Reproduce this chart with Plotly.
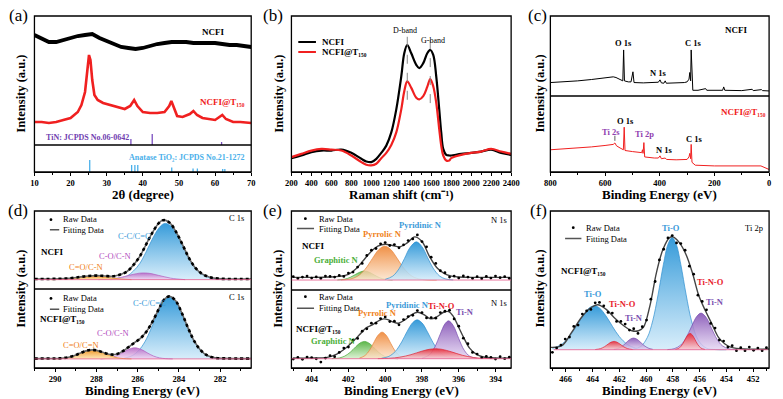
import plotly.graph_objects as go

W, H = 783, 399
SERIF = "Liberation Serif"

# ---------------- (a) XRD ----------------
xrd_2theta_ncfi = [10, 12, 14, 16, 18, 20, 22, 24, 26, 28, 30, 32, 34, 36, 38, 40, 42, 44, 46, 48, 50, 52, 54, 56, 58, 60, 62, 64, 66, 68, 70]
xrd_ncfi = [111, 107, 104, 104, 106, 108, 110, 111, 112, 108, 105, 102, 99, 98, 97, 98, 100, 102, 103, 104, 104, 104, 103, 103, 103, 103, 102, 101, 101, 100, 99]
xrd_2theta_t150 = [10, 12, 14, 16, 18, 20, 22, 23, 24, 24.6, 25.1, 25.5, 26, 26.6, 27.5, 29, 31, 33, 35, 36.5, 37.6, 38.5, 40, 42, 44, 46, 47.3, 47.9, 48.6, 49.5, 51, 53, 54, 55, 56.5, 58, 60, 62, 63, 65, 67, 70]
xrd_t150 = [24, 24, 23, 24, 26, 28, 34, 41, 54, 74, 91, 86, 66, 51, 46, 43, 41, 39, 37, 40, 46, 40, 34, 33, 33, 34, 40, 45, 38, 30, 29, 32, 35, 31, 28, 27, 26, 31, 27, 24, 24, 23]
tin_ref_2theta = [36.7, 42.6, 61.8]
tin_ref_int = [7, 12, 4]
anatase_ref_2theta = [25.3, 36.9, 37.8, 38.6, 48.0, 53.9, 55.1, 62.1, 62.7]
anatase_ref_int = [12, 7, 7, 7, 4.5, 3.5, 3.5, 3, 3]

# ---------------- (b) Raman ----------------
raman_shift = [200, 300, 400, 500, 600, 700, 800, 900, 950, 1000, 1050, 1100, 1150, 1200, 1250, 1300, 1330, 1360, 1400, 1450,
               1480, 1520, 1560, 1590, 1620, 1650, 1680, 1700, 1720, 1750, 1780, 1800, 1900, 2000, 2100, 2200, 2300, 2400]
raman_ncfi = [42, 50, 60, 65, 65, 68, 58, 40, 32, 30, 40, 58, 80, 120, 190, 290, 360, 385, 360, 325,
              315, 330, 360, 370, 355, 290, 190, 120, 70, 52, 50, 50, 55, 58, 62, 68, 58, 52]
raman_t150 = [45, 55, 65, 70, 68, 65, 50, 30, 22, 20, 25, 42, 58, 82, 120, 190, 245, 275, 255, 225,
              220, 230, 258, 282, 260, 210, 130, 80, 50, 35, 35, 42, 52, 58, 62, 70, 62, 55]
d_band, g_band = 1360, 1590

# ---------------- (c) XPS survey ----------------
survey_be_ncfi = [800, 750, 700, 650, 600, 570, 560, 545, 535, 532, 529, 515, 505, 498, 494, 460, 420, 405, 399, 394,
                  385, 380, 376, 340, 310, 300, 293, 290, 287, 285, 282, 279, 260, 232, 228, 170, 166, 162, 100, 62, 58, 28, 24, 0]
survey_ncfi = [40, 42, 45, 49, 53, 57, 55, 49, 45, 137, 45, 42, 42, 72, 40, 39, 39, 41, 48, 39,
               38, 45, 38, 38, 40, 42, 50, 70, 45, 137, 35, 17, 17, 22, 17, 17, 27, 17, 16, 20, 16, 19, 16, 15]
survey_be_t150 = [800, 750, 700, 650, 600, 570, 564, 558, 545, 533, 530, 527, 500, 480, 466, 463, 461, 458, 455, 420,
                  405, 399, 394, 380, 375, 340, 300, 293, 290, 287, 285, 282, 270, 200, 150, 100, 50, 30, 0]
survey_t150 = [62, 64, 67, 70, 74, 77, 81, 73, 67, 62, 125, 60, 57, 55, 54, 62, 52, 82, 42, 39,
               39, 45, 37, 39, 35, 34, 35, 42, 52, 37, 77, 27, 19, 17, 17, 16, 15, 17, 7]

# ---------------- (d) C 1s ----------------
c1s_ncfi_be = [291.0, 290.4, 289.8, 289.3, 288.8, 288.4, 288.0, 287.6, 287.2, 286.8, 286.5, 286.2, 285.9, 285.6, 285.3,
               285.0, 284.8, 284.64, 284.4, 284.1, 283.8, 283.5, 283.2, 282.9, 282.5, 282.1, 281.6, 281.0, 280.5]
c1s_ncfi_fit = [2, 2, 2.5, 4, 8, 11, 12, 11, 10, 16, 25, 44, 69, 104, 139, 167, 177, 177, 167, 138, 101, 63, 35, 18, 7, 3, 2, 2, 2]
c1s_ncfi_cc_be = [287.3, 286.8, 286.5, 286.2, 285.9, 285.6, 285.3, 285.0, 284.8, 284.64, 284.4, 284.1, 283.8, 283.5, 283.2, 282.9, 282.5, 282.1, 281.6]
c1s_ncfi_cc = [0, 5, 11, 26, 48, 82, 120, 152, 165, 168, 161, 134, 98, 61, 33, 16, 5, 1, 0]
c1s_ncfi_co_be = [287.9, 287.6, 287.2, 286.8, 286.5, 286.2, 285.9, 285.6, 285.3, 285.0, 284.7, 284.4, 284.1, 283.7]
c1s_ncfi_co = [0, 1, 3, 7, 11.5, 16, 19.4, 19.8, 17.4, 12.8, 8.5, 4.4, 2, 0]
c1s_ncfi_cdo_be = [290.2, 289.8, 289.3, 288.8, 288.4, 288.0, 287.6, 287.2, 286.8, 286.3]
c1s_ncfi_cdo = [0, 0.5, 2.2, 5.9, 9, 10, 7.9, 4.5, 1.9, 0]

c1s_t150_be = [291.0, 290.4, 290.0, 289.7, 289.4, 289.1, 288.8, 288.5, 288.2, 287.9, 287.6, 287.3, 287.0, 286.7, 286.44, 286.14,
               285.84, 285.54, 285.24, 284.94, 284.7, 284.45, 284.15, 283.85, 283.55, 283.25, 282.95, 282.65, 282.25, 281.8, 281.2, 280.5]
c1s_t150_fit = [1, 1.1, 1.3, 2.1, 4.5, 9.4, 16.8, 24, 27, 24, 17.8, 13, 14.4, 23.7, 35.3, 49,
                62.5, 84.3, 115.8, 153, 178, 186, 172, 135, 91, 52, 26, 11, 3, 1.5, 1, 1]
c1s_t150_cc_be = [286.65, 286.25, 285.95, 285.65, 285.35, 285.05, 284.75, 284.45, 284.15, 283.85, 283.55, 283.25, 282.95, 282.65, 282.25, 281.8]
c1s_t150_cc = [2, 10, 25, 51, 90, 134, 171, 185, 171, 134, 90, 51, 25, 10, 2, 0]
c1s_t150_co_be = [287.8, 287.34, 287.04, 286.74, 286.44, 286.14, 285.84, 285.54, 285.24, 284.94, 284.64, 284.3]
c1s_t150_co = [0, 3.1, 8.8, 18.3, 28.5, 33, 28.5, 18.3, 8.8, 3.1, 0.8, 0]
c1s_t150_cdo_be = [290.0, 289.7, 289.4, 289.1, 288.8, 288.5, 288.2, 287.9, 287.6, 287.3, 287.0, 286.7, 286.3]
c1s_t150_cdo = [0, 1.1, 3.5, 8.4, 15.8, 23, 26, 23, 15.8, 8.4, 3.5, 1.1, 0]

# ---------------- (e) N 1s ----------------
n1s_raw_be = [405.0, 404.75, 404.5, 404.25, 404.0, 403.75, 403.5, 403.25, 403.0, 402.75, 402.5, 402.25, 402.0, 401.75, 401.5, 401.25,
              401.0, 400.75, 400.5, 400.25, 400.0, 399.75, 399.5, 399.25, 399.0, 398.75, 398.5, 398.25, 398.0, 397.75, 397.5, 397.25,
              397.0, 396.75, 396.5, 396.25, 396.0, 395.75, 395.5, 395.25, 395.0, 394.75, 394.5, 394.25, 394.0, 393.75, 393.5, 393.25]
n1s_ncfi_raw = [10, 5, 9, 12, 6, 9.5, 5, 12, 11, 9, 14, 11, 21, 24, 39, 50, 74, 90, 95, 109, 113, 104, 107, 97, 106, 119, 124, 136,
                116, 100, 69, 50, 28, 22, 9, 12, 6, 12.5, 9, 5, 10, 4, 11, 6, 12, 7, 10, 5]
n1s_t150_raw = [-1, 4, -2, 5, 3, -0.5, -10, 2, 9, 6, 19, 32, 35, 56, 61, 83, 90, 107, 107, 121, 126, 112, 113, 102, 118, 127, 131, 145,
                139, 123, 124, 122, 139, 143, 146, 120, 98, 62, 45, 19, 14, 3, 7, 4, -1, 6, 0, 5]
n1s_ncfi_fit_be = [405.0, 404.0, 403.0, 402.5, 402.0, 401.6, 401.2, 400.8, 400.4, 400.0, 399.6, 399.2, 398.8, 398.4, 398.0, 397.6,
                   397.2, 396.8, 396.4, 396.0, 395.0, 394.0, 393.2]
n1s_ncfi_fit = [8, 8, 9, 11, 17, 33, 58, 84, 102, 108, 104, 100, 112, 130, 116, 72, 38, 20, 12, 9, 8, 8, 8]
n1s_ncfi_grap_be = [402.6, 402.2, 401.9, 401.6, 401.35, 401.13, 400.9, 400.6, 400.3, 400.0, 399.6]
n1s_ncfi_grap = [0.4, 2.7, 8.2, 17.4, 24.5, 27, 24.3, 15.4, 6.8, 2.1, 0.25]
n1s_ncfi_pyrr_be = [402.4, 401.9, 401.5, 401.1, 400.7, 400.35, 400.02, 399.7, 399.35, 399.0, 398.6, 398.2, 397.7, 397.2]
n1s_ncfi_pyrr = [0.4, 3.1, 11.6, 32, 64.5, 91.6, 102, 92.1, 65.4, 36.3, 13.8, 3.8, 0.5, 0]
n1s_ncfi_pyrd_be = [400.0, 399.6, 399.25, 398.95, 398.65, 398.31, 398.0, 397.7, 397.4, 397.05, 396.7, 396.3]
n1s_ncfi_pyrd = [2.2, 11.4, 33.7, 65, 98, 115, 100.6, 68.6, 36.4, 12.7, 3.1, 0.4]

n1s_t150_fit_be = [405.0, 404.08, 403.16, 402.63, 402.19, 401.75, 401.4, 401.05, 400.7, 400.34, 400.08, 399.81, 399.55, 399.28, 398.93,
                   398.58, 398.23, 397.87, 397.52, 397.17, 396.82, 396.55, 396.29, 396.02, 395.76, 395.41, 395.05, 394.7, 394.0, 393.15]
n1s_t150_fit = [2, 2, 4, 14, 30, 52, 72, 92, 102, 115, 120, 117, 110, 107, 117, 132, 140, 132, 120, 127, 140, 142, 127, 97, 67, 32, 14, 6, 2, 2]
n1s_t150_grap_be = [402.9, 402.5, 402.2, 401.9, 401.6, 401.35, 401.13, 400.9, 400.65, 400.35, 400.05, 399.7, 399.3]
n1s_t150_grap = [0.3, 2.3, 7.9, 19.5, 36, 48, 52, 47.6, 35.5, 19, 7.5, 1.8, 0]
n1s_t150_pyrr_be = [401.4, 401.1, 400.85, 400.6, 400.4, 400.17, 399.95, 399.7, 399.45, 399.2, 398.9]
n1s_t150_pyrr = [1.9, 9.4, 25.6, 50.7, 70, 80, 71, 46.4, 22.2, 7.8, 1.5]
n1s_t150_pyrd_be = [400.2, 399.8, 399.45, 399.1, 398.8, 398.5, 398.26, 398.0, 397.7, 397.4, 397.05, 396.7, 396.3]
n1s_t150_pyrd = [1.4, 7, 21.9, 50.8, 82.8, 109, 117, 108, 80.7, 48.8, 20.7, 6.6, 1.2]
n1s_t150_tino_be = [400.4, 399.8, 399.2, 398.6, 398.0, 397.6, 397.26, 396.9, 396.4, 395.8, 395.2, 394.6, 394.0]
n1s_t150_tino = [0.2, 1.2, 4.6, 12.2, 22.8, 28.3, 30, 28.1, 20.7, 10.3, 3.6, 0.9, 0.1]
n1s_t150_tin_be = [398.0, 397.6, 397.3, 397.0, 396.75, 396.55, 396.3, 396.0, 395.7, 395.4, 395.0]
n1s_t150_tin = [1.4, 11.4, 35.3, 74.8, 105, 114, 100, 60.7, 25.3, 7.3, 0.8]

# ---------------- (f) Ti 2p ----------------
ti2p_raw_be = [467.0, 466.68, 466.36, 466.04, 465.72, 465.4, 465.08, 464.76, 464.44, 464.12, 463.8, 463.48, 463.16, 462.84, 462.52,
               462.2, 461.88, 461.56, 461.24, 460.92, 460.6, 460.28, 459.96, 459.64, 459.32, 459.0, 458.68, 458.36, 458.04, 457.72,
               457.4, 457.08, 456.76, 456.44, 456.12, 455.8, 455.48, 455.16, 454.84, 454.52, 454.2, 453.88, 453.56, 453.24, 452.92,
               452.6, 452.28, 451.96, 451.64, 451.32, 451.0]
ti2p_raw = [-8, 5, 14, 32, 38, 70, 74, 107, 117, 121, 141, 142, 132, 112, 110, 85, 85, 77, 59, 63, 49, 69, 89, 152, 205, 270, 302,
            336, 343, 321, 319, 299, 251, 227, 164, 145, 120, 79, 65, 29, 26, 8, 12, -3, 6, -3, 8, -2, 5, -3, 6]
ti2p_fit_be = [467.1, 466.3, 465.56, 464.83, 464.1, 463.61, 463.0, 462.39, 461.66, 461.05, 460.56, 460.2, 459.71, 459.22, 458.73,
               458.24, 458.0, 457.51, 457.02, 456.54, 456.05, 455.56, 455.07, 454.58, 454.1, 453.61, 452.63, 450.8]
ti2p_fit = [7, 12, 52, 97, 127, 135, 122, 97, 72, 57, 57, 67, 132, 232, 302, 337, 339, 322, 287, 232, 162, 117, 77, 37, 17, 7, 2, 2]
tio_12_be = [467.0, 466.4, 465.8, 465.2, 464.6, 464.2, 463.86, 463.5, 463.0, 462.5, 462.0, 461.4, 460.8, 460.2]
tio_12 = [4.3, 14, 35.7, 70.8, 109, 126.8, 132, 126.2, 102, 69.5, 39.6, 16.1, 5.1, 1.3]
tio_32_be = [461.0, 460.4, 459.9, 459.5, 459.1, 458.7, 458.35, 458.05, 457.75, 457.4, 457.0, 456.6, 456.1, 455.5, 454.8, 454.0]
tio_32 = [1.2, 9.5, 37, 86.7, 165, 256.5, 318, 337, 318, 256.5, 165, 86.7, 29, 5, 0.4, 0]
tino_12_be = [463.8, 463.4, 463.1, 462.8, 462.6, 462.39, 462.2, 461.95, 461.7, 461.4, 461.0]
tino_12 = [0.5, 3.3, 9.1, 17.9, 22.9, 25, 23.3, 17, 9.6, 3.5, 0.5]
tino_32_be = [457.8, 457.5, 457.25, 457.05, 456.88, 456.71, 456.55, 456.35, 456.15, 455.9, 455.6]
tino_32 = [0.8, 5.6, 17.9, 32.8, 44.3, 49, 44.8, 31.3, 16.6, 5, 0.7]
tin_12_be = [462.4, 462.0, 461.7, 461.4, 461.15, 460.93, 460.7, 460.45, 460.15, 459.85, 459.5]
tin_12 = [1, 5.3, 13.1, 24.3, 32.3, 35, 32.1, 23.9, 12.8, 5.1, 1.2]
tin_32_be = [458.4, 457.9, 457.4, 457.0, 456.6, 456.2, 455.88, 455.5, 455.1, 454.7, 454.3, 453.8, 453.2]
tin_32 = [0.4, 2.9, 14.1, 36, 69.4, 100.4, 110, 96.8, 64, 31.9, 12, 2.3, 0]

# ---------------- colours ----------------
C_BLUE = ("rgba(36,146,214,0.92)", "rgba(210,235,250,0.85)", "#2f8fd0")
C_PURP = ("rgba(180,100,196,0.88)", "rgba(242,214,242,0.8)", "#b060c0")
C_ORNG = ("rgba(242,148,28,0.92)", "rgba(253,228,175,0.85)", "#e8901c")
C_PYRR = ("rgba(238,132,50,0.9)", "rgba(252,226,200,0.8)", "#e8843a")
C_GREEN = ("rgba(78,176,58,0.92)", "rgba(215,240,205,0.85)", "#4aa83a")
C_RED = ("rgba(232,36,48,0.9)", "rgba(250,205,210,0.8)", "#e02030")
C_VIOL = ("rgba(130,80,180,0.9)", "rgba(228,212,242,0.8)", "#7a4fb0")

T_BLUE, T_PURP, T_ORNG, T_GREEN, T_RED, T_VIOL = "#3a9ad9", "#b34fc0", "#f07f1a", "#4caf3a", "#e8202a", "#7a4fb0"

T150 = "NCFI@T₁₅₀"


def PX(x):
    return x / W


def PY(y):
    return 1 - y / H


fig = go.Figure()


def line(x, y, xa, ya, color, width=1.0, shape="linear", dash="solid"):
    fig.add_trace(go.Scatter(x=x, y=y, xaxis=xa, yaxis=ya, mode="lines",
                             line=dict(color=color, width=width, shape=shape, dash=dash),
                             hoverinfo="skip"))


def comp(x, y, xa, ya, col):
    fig.add_trace(go.Scatter(x=x, y=y, xaxis=xa, yaxis=ya, mode="lines",
                             line=dict(color=col[2], width=0.7, shape="spline"),
                             fill="tozeroy",
                             fillgradient=dict(type="vertical", colorscale=[[0, col[1]], [1, col[0]]]),
                             hoverinfo="skip"))


def dots(x, y, xa, ya):
    fig.add_trace(go.Scatter(x=x, y=y, xaxis=xa, yaxis=ya, mode="markers",
                             marker=dict(color="black", size=2.8), hoverinfo="skip"))


def sticks(pos, h, xa, ya, color):
    xs, ys = [], []
    for p, v in zip(pos, h):
        xs += [p, p, None]
        ys += [0, v, None]
    line(xs, ys, xa, ya, color, width=1.3)


# (a)
line(xrd_2theta_ncfi, xrd_ncfi, "x", "y", "black", width=3.8)
line(xrd_2theta_t150, xrd_t150, "x", "y", "#f02020", width=2.6)
sticks(tin_ref_2theta, tin_ref_int, "x", "y", "#7a4fbf")
sticks(anatase_ref_2theta, anatase_ref_int, "x", "y2", "#4ab0ea")

# (b)
line(raman_shift, raman_ncfi, "x2", "y3", "black", width=2.2, shape="spline")
line(raman_shift, raman_t150, "x2", "y3", "#f02020", width=2.2, shape="spline")

# (c)
line(survey_be_ncfi, survey_ncfi, "x3", "y4", "black", width=1.0)
line(survey_be_t150, survey_t150, "x3", "y5", "#f02020", width=1.0)

# (d)
comp(c1s_ncfi_cc_be, c1s_ncfi_cc, "x4", "y6", C_BLUE)
comp(c1s_ncfi_co_be, c1s_ncfi_co, "x4", "y6", C_PURP)
comp(c1s_ncfi_cdo_be, c1s_ncfi_cdo, "x4", "y6", C_ORNG)
line(c1s_ncfi_be, c1s_ncfi_fit, "x4", "y6", "#666666", width=1.6, shape="spline")
line(c1s_ncfi_be, c1s_ncfi_fit, "x4", "y6", "black", width=2.6, shape="spline", dash="dot")
comp(c1s_t150_cc_be, c1s_t150_cc, "x4", "y7", C_BLUE)
comp(c1s_t150_co_be, c1s_t150_co, "x4", "y7", C_PURP)
comp(c1s_t150_cdo_be, c1s_t150_cdo, "x4", "y7", C_ORNG)
line(c1s_t150_be, c1s_t150_fit, "x4", "y7", "#666666", width=1.6, shape="spline")
line(c1s_t150_be, c1s_t150_fit, "x4", "y7", "black", width=2.6, shape="spline", dash="dot")

# (e)
comp(n1s_ncfi_grap_be, n1s_ncfi_grap, "x5", "y8", C_GREEN)
comp(n1s_ncfi_pyrr_be, n1s_ncfi_pyrr, "x5", "y8", C_PYRR)
comp(n1s_ncfi_pyrd_be, n1s_ncfi_pyrd, "x5", "y8", C_BLUE)
line(n1s_ncfi_fit_be, n1s_ncfi_fit, "x5", "y8", "#444444", width=1.4, shape="spline")
dots(n1s_raw_be, n1s_ncfi_raw, "x5", "y8")
comp(n1s_t150_grap_be, n1s_t150_grap, "x5", "y9", C_GREEN)
comp(n1s_t150_pyrr_be, n1s_t150_pyrr, "x5", "y9", C_PYRR)
comp(n1s_t150_pyrd_be, n1s_t150_pyrd, "x5", "y9", C_BLUE)
comp(n1s_t150_tin_be, n1s_t150_tin, "x5", "y9", C_VIOL)
comp(n1s_t150_tino_be, n1s_t150_tino, "x5", "y9", C_RED)
line(n1s_t150_fit_be, n1s_t150_fit, "x5", "y9", "#444444", width=1.4, shape="spline")
dots(n1s_raw_be, n1s_t150_raw, "x5", "y9")

# (f)
comp(tio_12_be, tio_12, "x6", "y10", C_BLUE)
comp(tio_32_be, tio_32, "x6", "y10", C_BLUE)
comp(tin_12_be, tin_12, "x6", "y10", C_VIOL)
comp(tin_32_be, tin_32, "x6", "y10", C_VIOL)
comp(tino_12_be, tino_12, "x6", "y10", C_RED)
comp(tino_32_be, tino_32, "x6", "y10", C_RED)
line(ti2p_fit_be, ti2p_fit, "x6", "y10", "#444444", width=1.4, shape="spline")
dots(ti2p_raw_be, ti2p_raw, "x6", "y10")

# ---------------- axes ----------------
COLS = {"A": (29, 250), "B": (291, 515), "C": (555, 778)}
TOP, BOT = (16, 172), (211, 368)


def xax(col, anchor, rng, dtick, minor):
    return dict(domain=[PX(COLS[col][0]), PX(COLS[col][1])], anchor=anchor, range=rng,
                showgrid=False, zeroline=False, showline=True, linecolor="black", linewidth=1.3,
                ticks="outside", ticklen=3, tickwidth=1, tickcolor="black", dtick=dtick, tick0=0,
                minor=dict(dtick=minor, ticks="outside", ticklen=2, tickwidth=1, tickcolor="black", showgrid=False),
                tickfont=dict(family=SERIF, size=8.5, color="black", weight="bold"), fixedrange=True)


def yax(y0, y1, anchor, rng):
    return dict(domain=[PY(y1), PY(y0)], anchor=anchor, range=rng, visible=False, fixedrange=True)


layout = dict(
    width=W, height=H, margin=dict(l=0, r=0, t=0, b=0),
    paper_bgcolor="white", plot_bgcolor="rgba(0,0,0,0)", showlegend=False,
    xaxis=xax("A", "y2", [10, 70], 10, 5),
    yaxis=yax(16, 145, "x", [1, 130]),
    yaxis2=yax(145, 172, "x", [0, 27]),
    xaxis2=xax("B", "y3", [200, 2400], 200, 100),
    yaxis3=yax(16, 172, "x2", [0, 473]),
    xaxis3=xax("C", "y5", [800, 0], 200, 100),
    yaxis4=yax(16, 96, "x3", [0, 238]),
    yaxis5=yax(96, 172, "x3", [0, 212]),
    xaxis4=xax("A", "y7", [291.0, 280.5], 2, 1),
    yaxis6=yax(211, 289, "x4", [-28, 205]),
    yaxis7=yax(289, 368, "x4", [-27, 208]),
    xaxis5=xax("B", "y9", [405.1, 393.15], 2, 1),
    yaxis8=yax(211, 290, "x5", [-30, 208]),
    yaxis9=yax(290, 368, "x5", [-28, 207]),
    xaxis6=xax("C", "y10", [467.15, 450.8], 2, 1),
    yaxis10=yax(211, 368, "x6", [-55, 417]),
)
fig.update_layout(**layout)

shapes = []
for col in "ABC":
    for row in (TOP, BOT):
        shapes.append(dict(type="rect", xref="paper", yref="paper", x0=PX(COLS[col][0]), x1=PX(COLS[col][1]),
                           y0=PY(row[1]), y1=PY(row[0]), line=dict(color="black", width=1.3)))
for col, yy in (("A", 145), ("C", 96), ("A", 289), ("B", 290)):
    shapes.append(dict(type="line", xref="paper", yref="paper", x0=PX(COLS[col][0]), x1=PX(COLS[col][1]),
                       y0=PY(yy), y1=PY(yy), line=dict(color="black", width=1.3)))
# baselines of fitted components
for xa, ya, x0, x1 in (("x4", "y6", 291, 280.5), ("x4", "y7", 291, 280.5), ("x5", "y8", 405.1, 393.15),
                       ("x5", "y9", 405.1, 393.15), ("x6", "y10", 466.9, 450.9)):
    shapes.append(dict(type="line", xref=xa, yref=ya, x0=x0, x1=x1, y0=0, y1=0,
                       line=dict(color="rgba(230,90,140,0.8)", width=1)))
# Raman band guides
shapes.append(dict(type="line", xref="x2", yref="y3", x0=d_band, x1=d_band, y0=410, y1=210,
                   line=dict(color="#888888", width=1, dash="dash")))
shapes.append(dict(type="line", xref="x2", yref="y3", x0=g_band, x1=g_band, y0=400, y1=190,
                   line=dict(color="#888888", width=1, dash="dash")))
# Raman legend
shapes.append(dict(type="line", xref="paper", yref="paper", x0=PX(298), x1=PX(316), y0=PY(42), y1=PY(42),
                   line=dict(color="black", width=2)))
shapes.append(dict(type="line", xref="paper", yref="paper", x0=PX(298), x1=PX(316), y0=PY(52), y1=PY(52),
                   line=dict(color="#f02020", width=2)))


def leg(xa, ya, xd, yd, xl0, xl1, yl):
    shapes.append(dict(type="circle", xref=xa, yref=ya, xsizemode="pixel", ysizemode="pixel",
                       xanchor=xd, yanchor=yd, x0=-1.4, x1=1.4, y0=-1.4, y1=1.4,
                       fillcolor="black", line=dict(width=0)))
    shapes.append(dict(type="line", xref=xa, yref=ya, x0=xl0, x1=xl1, y0=yl, y1=yl,
                       line=dict(color="#555555", width=1.5)))


leg("x4", "y6", 290.2, 179, 290.25, 289.8, 149)
leg("x4", "y7", 290.2, 180, 290.25, 289.8, 148)
leg("x5", "y8", 404.34, 185, 404.8, 403.87, 155)
leg("x5", "y9", 404.34, 187, 404.8, 403.87, 152)
leg("x6", "y10", 465.44, 367, 466.05, 464.83, 334)
# Ti 2s pointer
shapes.append(dict(type="line", xref="x3", yref="y5", x0=564, x1=564, y0=101, y1=87,
                   line=dict(color="#333333", width=0.8)))
fig.update_layout(shapes=shapes)

anns = []


def ann(x, y, text, xref="paper", yref="paper", size=9, color="black", xanchor="center", yanchor="middle", angle=0):
    anns.append(dict(x=x, y=y, xref=xref, yref=yref, text=text, showarrow=False, textangle=angle,
                     font=dict(family=SERIF, size=size, color=color), xanchor=xanchor, yanchor=yanchor))


# panel letters
for lab, px_, py_ in (("(a)", 12.5, 15), ("(b)", 272, 15), ("(c)", 542, 15),
                      ("(d)", 12.5, 210), ("(e)", 272, 210), ("(f)", 543, 210)):
    ann(PX(px_), PY(py_), lab, size=17)
# axis titles
for cx, cy in ((15, 94), (278, 94), (544, 94), (15, 289), (277, 289), (544, 289)):
    ann(PX(cx), PY(cy), "<b>Intensity (a.u.)</b>", size=12.5, angle=-90)
ann(PX(139.5), PY(194.5), "<b>2θ (degree)</b>", size=13)
ann(PX(403), PY(194.5), "<b>Raman shift (cm⁻¹)</b>", size=13)
ann(PX(666.5), PY(194.5), "<b>Binding Energy (eV)</b>", size=13)
for cx in (139.5, 403, 666.5):
    ann(PX(cx), PY(390), "<b>Binding Energy (eV)</b>", size=13)

# (a) labels
ann(59.4, 114, "<b>NCFI</b>", "x", "y", size=9)
ann(62.0, 44, "<b>" + T150 + "</b>", "x", "y", size=9, color="#f02020")
ann(24.8, 8.7, "<b>TiN: JCPDS No.06-0642</b>", "x", "y", size=8, color="#7040b0")
ann(52.0, 14, "<b>Anatase TiO₂: JCPDS No.21-1272</b>", "x", "y2", size=8, color="#4ab0ea")

# (b) labels
ann(PX(320), PY(42), "<b>NCFI</b>", size=9, xanchor="left")
ann(PX(320), PY(52.5), "<b>" + T150 + "</b>", size=9, xanchor="left")
ann(d_band - 20, 428, "D-band", "x2", "y3", size=8)
ann(g_band + 30, 398, "G-band", "x2", "y3", size=8)

# (c) labels
ann(120, 197, "<b>NCFI</b>", "x3", "y4", size=9)
ann(532, 157, "<b>O 1s</b>", "x3", "y4", size=8.5)
ann(405, 68, "<b>N 1s</b>", "x3", "y4", size=8.5)
ann(276, 157, "<b>C 1s</b>", "x3", "y4", size=8.5)
ann(92, 167, "<b>" + T150 + "</b>", "x3", "y5", size=9, color="#f02020")
ann(577, 112, "<b>Ti 2s</b>", "x3", "y5", size=8.5, color="#9040b0")
ann(524, 141, "<b>O 1s</b>", "x3", "y5", size=8.5)
ann(454, 106, "<b>Ti 2p</b>", "x3", "y5", size=8.5, color="#9040b0")
ann(382, 62, "<b>N 1s</b>", "x3", "y5", size=8.5)
ann(273, 92, "<b>C 1s</b>", "x3", "y5", size=8.5)

# (d) labels
for ya in ("y6", "y7"):
    ann(281.2, 184, "C 1s", "x4", ya, size=8.5)
    ann(289.72, 180, "Raw Data", "x4", ya, size=8.5, xanchor="left")
    ann(289.72, 148, "Fitting Data", "x4", ya, size=8.5, xanchor="left")
ann(290.78, 84, "<b>NCFI</b>", "x4", "y6", size=9, xanchor="left")
ann(286.15, 130, "C-C/C=C", "x4", "y6", size=8.5, color=T_BLUE)
ann(287.1, 70, "C-O/C-N", "x4", "y6", size=8.5, color=T_PURP)
ann(288.52, 39, "C=O/C-N", "x4", "y6", size=8.5, color=T_ORNG)
ann(290.84, 120, "<b>" + T150 + "</b>", "x4", "y7", size=9, xanchor="left")
ann(285.44, 165, "C-C/C=C", "x4", "y7", size=8.5, color=T_BLUE)
ann(287.18, 78, "C-O/C-N", "x4", "y7", size=8.5, color=T_PURP)
ann(288.74, 40, "C=O/C=N", "x4", "y7", size=8.5, color=T_ORNG)

# (e) labels
ann(393.82, 180, "N 1s", "x5", "y8", size=8.5)
ann(403.69, 185, "Raw Data", "x5", "y8", size=8.5, xanchor="left")
ann(403.69, 155, "Fitting Data", "x5", "y8", size=8.5, xanchor="left")
ann(404.66, 103, "<b>NCFI</b>", "x5", "y8", size=9, xanchor="left")
ann(402.63, 60, "<b>Graphitic N</b>", "x5", "y8", size=8.5, color=T_GREEN)
ann(400.13, 140, "<b>Pyrrolic N</b>", "x5", "y8", size=8.5, color=T_ORNG)
ann(398.09, 165, "<b>Pyridinic N</b>", "x5", "y8", size=8.5, color=T_BLUE)
ann(393.82, 167, "N 1s", "x5", "y9", size=8.5)
ann(403.69, 187, "Raw Data", "x5", "y9", size=8.5, xanchor="left")
ann(403.69, 152, "Fitting Data", "x5", "y9", size=8.5, xanchor="left")
ann(404.95, 91, "<b>" + T150 + "</b>", "x5", "y9", size=9, xanchor="left")
ann(402.8, 53, "<b>Graphitic N</b>", "x5", "y9", size=8.5, color=T_GREEN)
ann(400.43, 137, "<b>Pyrrolic N</b>", "x5", "y9", size=8.5, color=T_ORNG)
ann(398.79, 162, "<b>Pyridinic N</b>", "x5", "y9", size=8.5, color=T_BLUE)
ann(396.96, 159, "<b>Ti-N-O</b>", "x5", "y9", size=8.5, color=T_RED)
ann(395.67, 140, "<b>Ti-N</b>", "x5", "y9", size=8.5, color=T_VIOL)

# (f) labels
ann(451.9, 367, "Ti 2p", "x6", "y10", size=8.5)
ann(464.6, 367, "Raw Data", "x6", "y10", size=8.5, xanchor="left")
ann(464.6, 334, "Fitting Data", "x6", "y10", size=8.5, xanchor="left")
ann(464.7, 237, "<b>" + T150 + "</b>", "x6", "y10", size=9)
ann(458.12, 365, "<b>Ti-O</b>", "x6", "y10", size=8.5, color=T_BLUE)
ann(463.98, 167, "<b>Ti-O</b>", "x6", "y10", size=8.5, color=T_BLUE)
ann(461.78, 137, "<b>Ti-N-O</b>", "x6", "y10", size=8.5, color=T_RED)
ann(460.88, 94, "<b>Ti-N</b>", "x6", "y10", size=8.5, color=T_VIOL)
ann(455.19, 205, "<b>Ti-N-O</b>", "x6", "y10", size=8.5, color=T_RED)
ann(454.88, 144, "<b>Ti-N</b>", "x6", "y10", size=8.5, color=T_VIOL)

fig.update_layout(annotations=anns)
fig.write_html("out.html", config={"displayModeBar": False},
               post_script="document.body.style.margin='0';document.body.style.padding='0';")
